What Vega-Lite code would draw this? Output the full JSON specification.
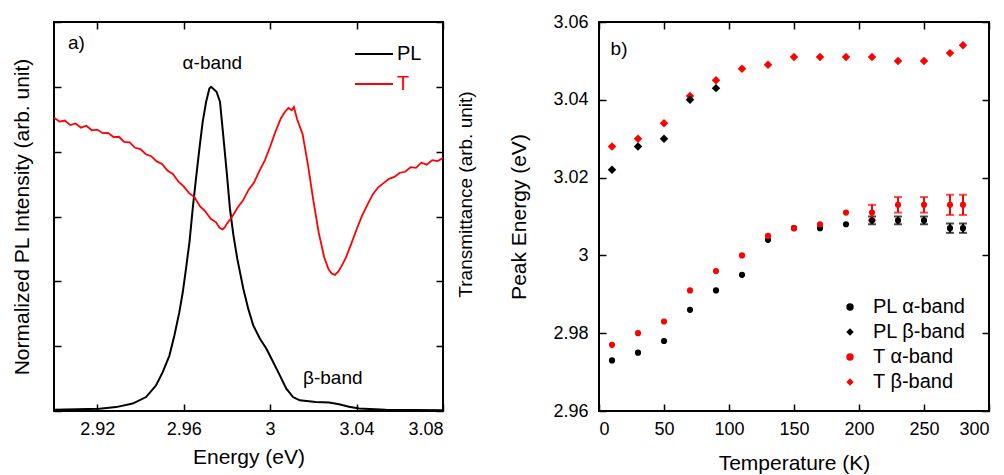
{
  "$schema": "https://vega.github.io/schema/vega-lite/v6.json",
  "padding": {"left": 10, "top": 12, "right": 2, "bottom": 2},
  "spacing": 156,
  "bounds": "flush",
  "background": "white",
  "resolve": {"scale": {"color": "independent", "shape": "independent"}, "legend": {"color": "independent", "shape": "independent"}},
  "config": {
    "font": "Liberation Sans",
    "view": {"stroke": "black", "strokeWidth": 2},
    "axis": {
      "domain": false, "grid": false, "ticks": true, "tickColor": "black", "tickWidth": 1.5, "tickSize": -7,
      "labelFontSize": 18, "labelColor": "black", "labelPadding": 16,
      "titleFontSize": 21, "titleFontWeight": "normal", "titleColor": "black"
    },
    "legend": {"labelFont": "Liberation Sans", "labelColor": "black"}
  },
  "datasets": {
    "pl": [
      {"E": 2.9002, "v": 0.004, "series": "PL"}, {"E": 2.921, "v": 0.007, "series": "PL"}, {"E": 2.9287, "v": 0.012, "series": "PL"},
      {"E": 2.9364, "v": 0.023, "series": "PL"}, {"E": 2.9426, "v": 0.043, "series": "PL"}, {"E": 2.9472, "v": 0.079, "series": "PL"},
      {"E": 2.9503, "v": 0.12, "series": "PL"}, {"E": 2.9534, "v": 0.171, "series": "PL"}, {"E": 2.9557, "v": 0.233, "series": "PL"},
      {"E": 2.958, "v": 0.305, "series": "PL"}, {"E": 2.9596, "v": 0.367, "series": "PL"}, {"E": 2.9611, "v": 0.44, "series": "PL"},
      {"E": 2.9627, "v": 0.522, "series": "PL"}, {"E": 2.9642, "v": 0.625, "series": "PL"}, {"E": 2.9657, "v": 0.717, "series": "PL"},
      {"E": 2.9673, "v": 0.81, "series": "PL"}, {"E": 2.9688, "v": 0.892, "series": "PL"}, {"E": 2.9704, "v": 0.954, "series": "PL"},
      {"E": 2.9719, "v": 0.995, "series": "PL"}, {"E": 2.9727, "v": 1.0, "series": "PL"}, {"E": 2.9737, "v": 0.994, "series": "PL"},
      {"E": 2.9752, "v": 0.985, "series": "PL"}, {"E": 2.9768, "v": 0.954, "series": "PL"}, {"E": 2.9783, "v": 0.851, "series": "PL"},
      {"E": 2.9799, "v": 0.738, "series": "PL"}, {"E": 2.9814, "v": 0.625, "series": "PL"}, {"E": 2.983, "v": 0.543, "series": "PL"},
      {"E": 2.9848, "v": 0.47, "series": "PL"}, {"E": 2.9876, "v": 0.377, "series": "PL"}, {"E": 2.9899, "v": 0.315, "series": "PL"},
      {"E": 2.9922, "v": 0.264, "series": "PL"}, {"E": 2.9953, "v": 0.223, "series": "PL"}, {"E": 2.9983, "v": 0.192, "series": "PL"},
      {"E": 3.0014, "v": 0.151, "series": "PL"}, {"E": 3.0045, "v": 0.11, "series": "PL"}, {"E": 3.0075, "v": 0.069, "series": "PL"},
      {"E": 3.0106, "v": 0.043, "series": "PL"}, {"E": 3.0137, "v": 0.033, "series": "PL"}, {"E": 3.0211, "v": 0.028, "series": "PL"},
      {"E": 3.0273, "v": 0.026, "series": "PL"}, {"E": 3.0319, "v": 0.021, "series": "PL"}, {"E": 3.0365, "v": 0.013, "series": "PL"},
      {"E": 3.0412, "v": 0.008, "series": "PL"}, {"E": 3.0535, "v": 0.004, "series": "PL"}, {"E": 3.08, "v": 0.002, "series": "PL"}
    ],
    "tr": [
      {"E": 2.9, "v": 0.905, "series": "T"}, {"E": 2.9025, "v": 0.893, "series": "T"}, {"E": 2.905, "v": 0.896, "series": "T"},
      {"E": 2.9075, "v": 0.882, "series": "T"}, {"E": 2.91, "v": 0.887, "series": "T"}, {"E": 2.9125, "v": 0.874, "series": "T"},
      {"E": 2.915, "v": 0.88, "series": "T"}, {"E": 2.9175, "v": 0.866, "series": "T"}, {"E": 2.92, "v": 0.868, "series": "T"},
      {"E": 2.9225, "v": 0.857, "series": "T"}, {"E": 2.925, "v": 0.858, "series": "T"}, {"E": 2.9275, "v": 0.845, "series": "T"},
      {"E": 2.93, "v": 0.846, "series": "T"}, {"E": 2.9325, "v": 0.83, "series": "T"}, {"E": 2.935, "v": 0.829, "series": "T"},
      {"E": 2.9375, "v": 0.812, "series": "T"}, {"E": 2.94, "v": 0.808, "series": "T"}, {"E": 2.9425, "v": 0.792, "series": "T"},
      {"E": 2.945, "v": 0.786, "series": "T"}, {"E": 2.9475, "v": 0.77, "series": "T"}, {"E": 2.95, "v": 0.762, "series": "T"},
      {"E": 2.9525, "v": 0.742, "series": "T"}, {"E": 2.955, "v": 0.731, "series": "T"}, {"E": 2.9575, "v": 0.708, "series": "T"},
      {"E": 2.96, "v": 0.693, "series": "T"}, {"E": 2.9625, "v": 0.672, "series": "T"}, {"E": 2.965, "v": 0.66, "series": "T"},
      {"E": 2.9675, "v": 0.632, "series": "T"}, {"E": 2.97, "v": 0.616, "series": "T"}, {"E": 2.9725, "v": 0.593, "series": "T"},
      {"E": 2.975, "v": 0.582, "series": "T"}, {"E": 2.9765, "v": 0.566, "series": "T"}, {"E": 2.978, "v": 0.56, "series": "T"},
      {"E": 2.979, "v": 0.566, "series": "T"}, {"E": 2.98, "v": 0.578, "series": "T"}, {"E": 2.9825, "v": 0.6, "series": "T"},
      {"E": 2.985, "v": 0.628, "series": "T"}, {"E": 2.9875, "v": 0.65, "series": "T"}, {"E": 2.99, "v": 0.682, "series": "T"},
      {"E": 2.9925, "v": 0.704, "series": "T"}, {"E": 2.995, "v": 0.74, "series": "T"}, {"E": 2.9975, "v": 0.772, "series": "T"},
      {"E": 3.0, "v": 0.815, "series": "T"}, {"E": 3.0025, "v": 0.862, "series": "T"}, {"E": 3.005, "v": 0.903, "series": "T"},
      {"E": 3.007, "v": 0.924, "series": "T"}, {"E": 3.0085, "v": 0.935, "series": "T"}, {"E": 3.01, "v": 0.928, "series": "T"},
      {"E": 3.011, "v": 0.938, "series": "T"}, {"E": 3.0125, "v": 0.9, "series": "T"}, {"E": 3.015, "v": 0.855, "series": "T"},
      {"E": 3.0175, "v": 0.76, "series": "T"}, {"E": 3.02, "v": 0.65, "series": "T"}, {"E": 3.0225, "v": 0.55, "series": "T"},
      {"E": 3.025, "v": 0.475, "series": "T"}, {"E": 3.027, "v": 0.438, "series": "T"}, {"E": 3.0285, "v": 0.424, "series": "T"},
      {"E": 3.03, "v": 0.42, "series": "T"}, {"E": 3.0315, "v": 0.43, "series": "T"}, {"E": 3.033, "v": 0.446, "series": "T"},
      {"E": 3.035, "v": 0.472, "series": "T"}, {"E": 3.0375, "v": 0.515, "series": "T"}, {"E": 3.04, "v": 0.56, "series": "T"},
      {"E": 3.0425, "v": 0.602, "series": "T"}, {"E": 3.045, "v": 0.636, "series": "T"}, {"E": 3.0475, "v": 0.668, "series": "T"},
      {"E": 3.05, "v": 0.69, "series": "T"}, {"E": 3.0525, "v": 0.703, "series": "T"}, {"E": 3.055, "v": 0.716, "series": "T"},
      {"E": 3.0575, "v": 0.722, "series": "T"}, {"E": 3.06, "v": 0.735, "series": "T"}, {"E": 3.0625, "v": 0.738, "series": "T"},
      {"E": 3.065, "v": 0.752, "series": "T"}, {"E": 3.0675, "v": 0.75, "series": "T"}, {"E": 3.07, "v": 0.766, "series": "T"},
      {"E": 3.0725, "v": 0.76, "series": "T"}, {"E": 3.075, "v": 0.774, "series": "T"}, {"E": 3.0775, "v": 0.771, "series": "T"},
      {"E": 3.08, "v": 0.78, "series": "T"}
    ],
    "notesA": [
      {"label": "a)", "E": 2.9104, "v": 1.134},
      {"label": "α-band", "E": 2.9733, "v": 1.074},
      {"label": "β-band", "E": 3.029, "v": 0.103}
    ],
    "alpha": [
      {"T": 10, "e": 2.973, "series": "PL α-band"}, {"T": 30, "e": 2.975, "series": "PL α-band"}, {"T": 50, "e": 2.978, "series": "PL α-band"},
      {"T": 70, "e": 2.986, "series": "PL α-band"}, {"T": 90, "e": 2.991, "series": "PL α-band"}, {"T": 110, "e": 2.995, "series": "PL α-band"},
      {"T": 130, "e": 3.004, "series": "PL α-band"}, {"T": 150, "e": 3.007, "series": "PL α-band"}, {"T": 170, "e": 3.007, "series": "PL α-band"},
      {"T": 190, "e": 3.008, "series": "PL α-band"}, {"T": 210, "e": 3.009, "series": "PL α-band"}, {"T": 230, "e": 3.009, "series": "PL α-band"},
      {"T": 250, "e": 3.009, "series": "PL α-band"}, {"T": 270, "e": 3.007, "series": "PL α-band"}, {"T": 280, "e": 3.007, "series": "PL α-band"},
      {"T": 10, "e": 2.977, "series": "T α-band"}, {"T": 30, "e": 2.98, "series": "T α-band"}, {"T": 50, "e": 2.983, "series": "T α-band"},
      {"T": 70, "e": 2.991, "series": "T α-band"}, {"T": 90, "e": 2.996, "series": "T α-band"}, {"T": 110, "e": 3.0, "series": "T α-band"},
      {"T": 130, "e": 3.005, "series": "T α-band"}, {"T": 150, "e": 3.007, "series": "T α-band"}, {"T": 170, "e": 3.008, "series": "T α-band"},
      {"T": 190, "e": 3.011, "series": "T α-band"}, {"T": 210, "e": 3.011, "series": "T α-band"}, {"T": 230, "e": 3.013, "series": "T α-band"},
      {"T": 250, "e": 3.013, "series": "T α-band"}, {"T": 270, "e": 3.013, "series": "T α-band"}, {"T": 280, "e": 3.013, "series": "T α-band"}
    ],
    "beta": [
      {"T": 10, "e": 3.028, "series": "T β-band"}, {"T": 30, "e": 3.03, "series": "T β-band"}, {"T": 50, "e": 3.034, "series": "T β-band"},
      {"T": 70, "e": 3.041, "series": "T β-band"}, {"T": 90, "e": 3.045, "series": "T β-band"}, {"T": 110, "e": 3.048, "series": "T β-band"},
      {"T": 130, "e": 3.049, "series": "T β-band"}, {"T": 150, "e": 3.051, "series": "T β-band"}, {"T": 170, "e": 3.051, "series": "T β-band"},
      {"T": 190, "e": 3.051, "series": "T β-band"}, {"T": 210, "e": 3.051, "series": "T β-band"}, {"T": 230, "e": 3.05, "series": "T β-band"},
      {"T": 250, "e": 3.05, "series": "T β-band"}, {"T": 270, "e": 3.052, "series": "T β-band"}, {"T": 280, "e": 3.054, "series": "T β-band"},
      {"T": 10, "e": 3.022, "series": "PL β-band"}, {"T": 30, "e": 3.028, "series": "PL β-band"}, {"T": 50, "e": 3.03, "series": "PL β-band"},
      {"T": 70, "e": 3.04, "series": "PL β-band"}, {"T": 90, "e": 3.043, "series": "PL β-band"}
    ],
    "errPL": [
      {"T": 210, "lo": 3.008, "hi": 3.010}, {"T": 230, "lo": 3.008, "hi": 3.010}, {"T": 250, "lo": 3.008, "hi": 3.010},
      {"T": 270, "lo": 3.0058, "hi": 3.0082}, {"T": 280, "lo": 3.0058, "hi": 3.0082}
    ],
    "errT": [
      {"T": 210, "lo": 3.009, "hi": 3.013}, {"T": 230, "lo": 3.011, "hi": 3.015}, {"T": 250, "lo": 3.011, "hi": 3.015},
      {"T": 270, "lo": 3.0104, "hi": 3.0156}, {"T": 280, "lo": 3.0104, "hi": 3.0156}
    ],
    "notesB": [{"label": "b)", "T": 15.4, "e": 3.0531}]
  },
  "hconcat": [
    {
      "width": 389, "height": 389,
      "layer": [
        {
          "data": {"name": "pl"},
          "mark": {"type": "line", "strokeWidth": 2},
          "encoding": {
            "x": {"field": "E", "type": "quantitative", "scale": {"domain": [2.9, 3.08], "nice": false, "zero": false},
              "axis": {"orient": "bottom", "values": [2.92, 2.96, 3, 3.04, 3.08], "format": "~g", "title": "Energy (eV)", "titlePadding": 8}},
            "y": {"field": "v", "type": "quantitative", "scale": {"domain": [0, 1.2], "nice": false, "zero": false},
              "axis": {"orient": "left", "values": [0, 0.2, 0.4, 0.6, 0.8, 1, 1.2], "labels": false, "title": "Normalized PL Intensity (arb. unit)", "titlePadding": 21}},
            "color": {"field": "series", "type": "nominal",
              "scale": {"domain": ["PL", "T"], "range": ["#000000", "#ff0000"]},
              "legend": {"title": null, "orient": "none", "legendX": 300, "legendY": 12, "symbolType": "stroke", "symbolSize": 1444,
                "symbolStrokeWidth": 2, "labelFontSize": 20, "labelOffset": 3, "rowPadding": -2,
                "encode": {"labels": {"update": {"fill": {"signal": "datum.label === 'T' ? '#ff0000' : '#000000'"}}}}}}
          }
        },
        {
          "data": {"name": "tr"},
          "mark": {"type": "line", "strokeWidth": 1.8},
          "encoding": {
            "x": {"field": "E", "type": "quantitative", "scale": {"domain": [2.9, 3.08], "nice": false, "zero": false},
              "axis": {"orient": "top", "values": [2.92, 2.96, 3, 3.04, 3.08], "labels": false, "title": null}},
            "y": {"field": "v", "type": "quantitative", "scale": {"domain": [0, 1.2], "nice": false, "zero": false},
              "axis": {"orient": "right", "values": [0, 0.2, 0.4, 0.6, 0.8, 1, 1.2], "labels": false, "title": "Transmittance (arb. unit)", "titleFontSize": 19, "titleAngle": 270, "titleBaseline": "top", "titlePadding": 13, "titleY": 172}},
            "color": {"field": "series", "type": "nominal"}
          }
        },
        {
          "data": {"name": "notesA"},
          "mark": {"type": "text", "fontSize": 19, "color": "black"},
          "encoding": {
            "x": {"field": "E", "type": "quantitative", "scale": {"domain": [2.9, 3.08], "nice": false, "zero": false}, "axis": null},
            "y": {"field": "v", "type": "quantitative", "scale": {"domain": [0, 1.2], "nice": false, "zero": false}, "axis": null},
            "text": {"field": "label"}
          }
        }
      ],
      "resolve": {"scale": {"y": "independent"}, "axis": {"x": "independent", "y": "independent"}}
    },
    {
      "width": 390, "height": 389,
      "layer": [
        {
          "data": {"name": "errPL"},
          "mark": {"type": "errorbar", "ticks": {"size": 8}, "color": "black", "thickness": 2},
          "encoding": {
            "x": {"field": "T", "type": "quantitative", "scale": {"domain": [0, 300], "nice": false},
              "axis": {"orient": "top", "values": [0, 50, 100, 150, 200, 250, 300], "labels": false, "title": null}},
            "y": {"field": "lo", "type": "quantitative", "scale": {"domain": [2.96, 3.06], "nice": false, "zero": false},
              "axis": {"orient": "right", "values": [2.96, 2.98, 3, 3.02, 3.04, 3.06], "labels": false, "title": null}},
            "y2": {"field": "hi"}
          }
        },
        {
          "data": {"name": "errT"},
          "mark": {"type": "errorbar", "ticks": {"size": 8}, "color": "#ff0000", "thickness": 2},
          "encoding": {
            "x": {"field": "T", "type": "quantitative", "scale": {"domain": [0, 300], "nice": false}, "axis": null},
            "y": {"field": "lo", "type": "quantitative", "scale": {"domain": [2.96, 3.06], "nice": false, "zero": false}, "axis": null},
            "y2": {"field": "hi"}
          }
        },
        {
          "data": {"name": "alpha"},
          "mark": {"type": "point", "filled": true, "opacity": 1, "size": 38},
          "encoding": {
            "x": {"field": "T", "type": "quantitative", "scale": {"domain": [0, 300], "nice": false},
              "axis": {"orient": "bottom", "values": [0, 50, 100, 150, 200, 250, 300], "title": "Temperature (K)", "titlePadding": 14}},
            "y": {"field": "e", "type": "quantitative", "scale": {"domain": [2.96, 3.06], "nice": false, "zero": false},
              "axis": {"orient": "left", "values": [2.96, 2.98, 3, 3.02, 3.04, 3.06], "format": "~g", "labelPadding": 18, "title": "Peak Energy (eV)", "titlePadding": 23}},
            "color": {"field": "series", "type": "nominal",
              "scale": {"domain": ["PL α-band", "PL β-band", "T α-band", "T β-band"], "range": ["#000000", "#000000", "#ff0000", "#ff0000"]},
              "legend": {"title": null, "orient": "none", "legendX": 241, "legendY": 275, "symbolSize": 55, "labelFontSize": 20,
                "labelOffset": 13, "rowPadding": 5,
                "encode": {"labels": {"update": {"fill": {"signal": "indexof(datum.label, 'T') === 0 ? '#ff0000' : '#000000'"}}}}}},
            "shape": {"field": "series", "type": "nominal",
              "scale": {"domain": ["PL α-band", "PL β-band", "T α-band", "T β-band"], "range": ["circle", "diamond", "circle", "diamond"]},
              "legend": {"title": null}}
          }
        },
        {
          "data": {"name": "beta"},
          "mark": {"type": "point", "filled": true, "opacity": 1, "size": 72},
          "encoding": {
            "x": {"field": "T", "type": "quantitative", "scale": {"domain": [0, 300], "nice": false}, "axis": null},
            "y": {"field": "e", "type": "quantitative", "scale": {"domain": [2.96, 3.06], "nice": false, "zero": false}, "axis": null},
            "color": {"field": "series", "type": "nominal"},
            "shape": {"field": "series", "type": "nominal"}
          }
        },
        {
          "data": {"name": "notesB"},
          "mark": {"type": "text", "fontSize": 19, "color": "black"},
          "encoding": {
            "x": {"field": "T", "type": "quantitative", "scale": {"domain": [0, 300], "nice": false}, "axis": null},
            "y": {"field": "e", "type": "quantitative", "scale": {"domain": [2.96, 3.06], "nice": false, "zero": false}, "axis": null},
            "text": {"field": "label"}
          }
        }
      ],
      "resolve": {"axis": {"x": "independent", "y": "independent"}}
    }
  ]
}
